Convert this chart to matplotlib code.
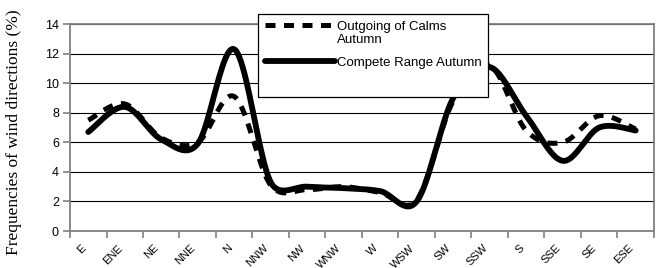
import numpy as np
import matplotlib
matplotlib.use("Agg")
import matplotlib.pyplot as plt
from matplotlib.transforms import ScaledTranslation
from matplotlib.lines import Line2D

# wind direction sectors (category axis)
directions = ["E", "ENE", "NE", "NNE", "N", "NNW", "NW", "WNW",
              "W", "WSW", "SW", "SSW", "S", "SSE", "SE", "ESE"]

# frequencies of wind directions (%)
calms_autumn = [7.5, 8.6, 6.3, 6.0, 9.1, 3.1, 2.8, 3.0,
                2.6, 2.1, 8.8, 11.2, 6.8, 6.0, 7.8, 6.9]
complete_autumn = [6.7, 8.4, 6.2, 5.9, 12.3, 3.3, 3.0, 2.9,
                   2.7, 2.0, 9.0, 11.1, 7.8, 4.75, 7.0, 6.8]


def smooth_curve(ax, xs, ys, n=40):
    """Excel-like smoothed line: cubic bezier through the points,
    tangent length capped at half the segment (done in pixel space)"""
    pts = ax.transData.transform(np.column_stack([xs, ys]))
    out = []
    t = np.linspace(0, 1, n)[:, None]
    for i in range(len(pts) - 1):
        p0 = pts[i - 1] if i > 0 else pts[i]
        p1 = pts[i]
        p2 = pts[i + 1]
        p3 = pts[i + 2] if i + 2 < len(pts) else pts[i + 1]
        half = np.hypot(*(p2 - p1)) / 2
        t1 = (p2 - p0) / 6
        t2 = (p3 - p1) / 6
        if np.hypot(*t1) > half:
            t1 = t1 * half / np.hypot(*t1)
        if np.hypot(*t2) > half:
            t2 = t2 * half / np.hypot(*t2)
        c1 = p1 + t1
        c2 = p2 - t2
        seg = ((1 - t) ** 3) * p1 + 3 * ((1 - t) ** 2) * t * c1 \
            + 3 * (1 - t) * t ** 2 * c2 + t ** 3 * p2
        out.append(seg if i == 0 else seg[1:])
    out = np.vstack(out)
    res = ax.transData.inverted().transform(out)
    return res[:, 0], res[:, 1]


fig, ax = plt.subplots(figsize=(6.7, 2.68), dpi=100)
fig.subplots_adjust(left=0.1045, right=0.976, bottom=0.138, top=0.910)

x = np.arange(len(directions))
ax.set_xlim(-0.5, len(directions) - 0.5)
ax.set_ylim(0, 14)

gray = "#808080"
for s in ax.spines.values():
    s.set_color(gray)
    s.set_linewidth(1.3)

ax.set_yticks(np.arange(0, 15, 2))
ax.yaxis.grid(True, color="black", linewidth=0.8)
ax.set_axisbelow(True)

ax.set_xticks(x)
ax.set_xticks(np.arange(-0.5, len(directions)), minor=True)
ax.set_xticklabels(directions, rotation=45, ha="right", va="top",
                   rotation_mode="anchor", fontsize=8,
                   family="Liberation Sans")
ax.tick_params(axis="x", which="major", length=0, pad=8.5)
ax.tick_params(axis="x", which="minor", length=5, color=gray, width=1.2)
ax.tick_params(axis="y", length=5, color=gray, width=1.2, labelsize=9,
               pad=3)
for lab in ax.get_yticklabels():
    lab.set_family("Liberation Sans")
off = ScaledTranslation(-7.5 / 100, 0, fig.dpi_scale_trans)
for lab in ax.get_xticklabels():
    lab.set_transform(lab.get_transform() + off)

ax.set_ylabel("Frequencies of wind directions (%)", family="Liberation Serif",
              fontsize=12.5)
ax.yaxis.set_label_coords(-0.082, 0.48)

sx, sy = smooth_curve(ax, x, calms_autumn)
ax.plot(sx, sy, color="black", linewidth=3.6, linestyle=(0, (2.0, 1.7)),
        dash_capstyle="butt", label="Outgoing of Calms\nAutumn")
sx, sy = smooth_curve(ax, x, complete_autumn)
ax.plot(sx, sy, color="black", linewidth=4.2, solid_capstyle="round",
        label="Compete Range Autumn")

handles, labels = ax.get_legend_handles_labels()
# empty row so the box keeps the extra room below the last entry
handles.append(Line2D([], [], color="none"))
labels.append(" ")
leg = ax.legend(handles, labels, loc="upper left",
                bbox_to_anchor=(258 / 670, 1 - 14 / 268),
                bbox_transform=fig.transFigure, borderaxespad=0,
                fancybox=False, framealpha=1, edgecolor="black",
                prop={"family": "Liberation Sans", "size": 9.5},
                handlelength=5.3, handletextpad=0.15, labelspacing=0.75,
                borderpad=0.5)
leg.get_frame().set_linewidth(0.9)
# dashed sample sits on the first text line, as in the original
hl = leg.get_lines()[0]
hl.set_ydata(np.asarray(hl.get_ydata()) + 6)

plt.savefig("out.png", dpi=100)
